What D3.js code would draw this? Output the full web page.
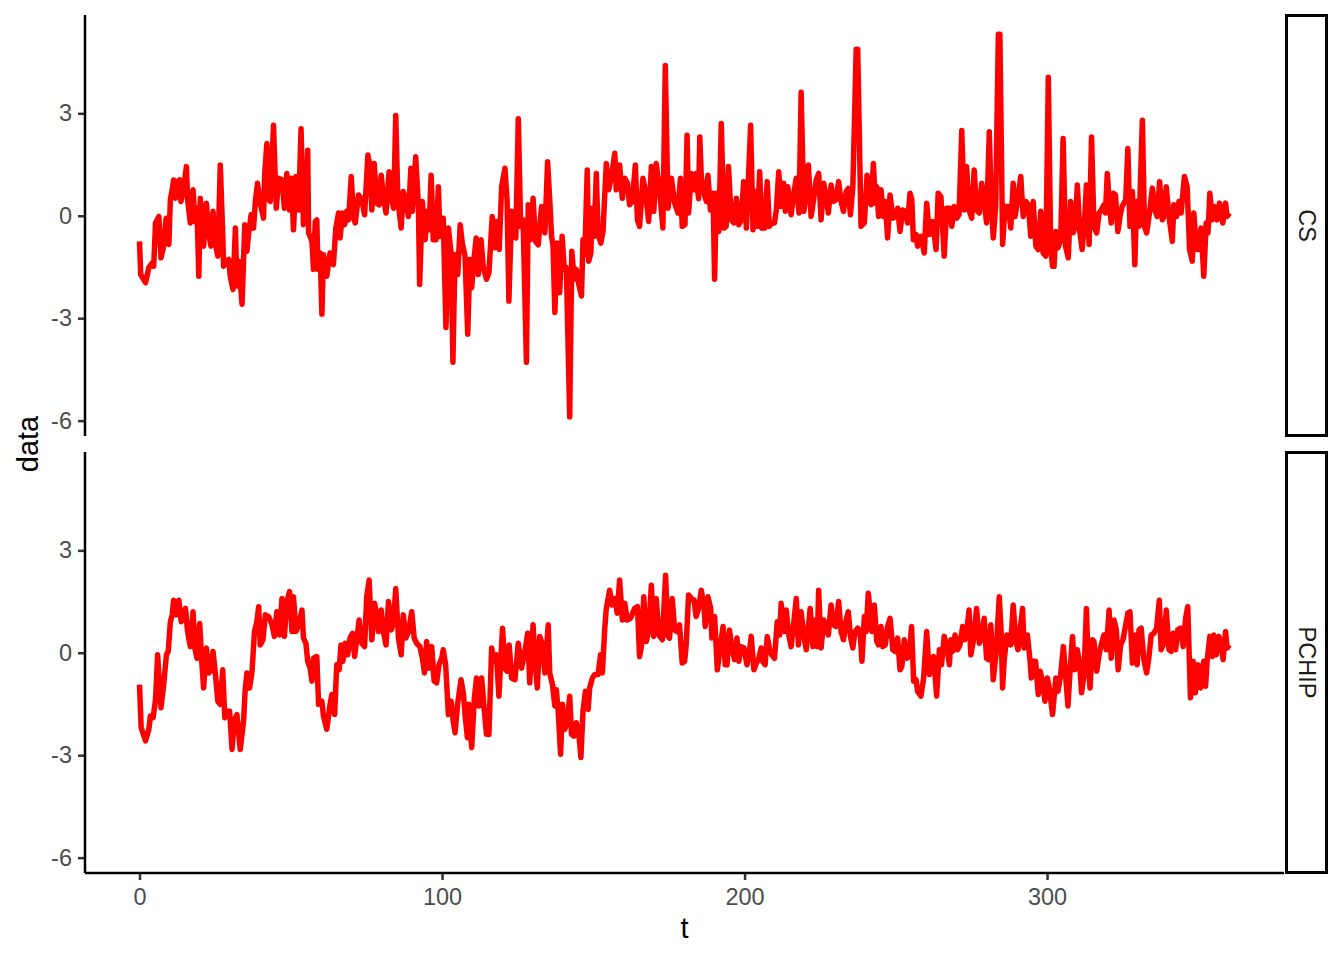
<!DOCTYPE html>
<html>
<head>
<meta charset="utf-8">
<script src="https://cdn.jsdelivr.net/npm/d3@7"></script>
<style>
	body { margin: 0; background: #fff; }
	text { font-family: 'Liberation Sans', Arial, sans-serif; }
</style>
</head>
<body>
<div id="chart"></div>
<script>
// ********** FACETED LINE CHART **********

// Panel names (facet rows, top to bottom)
const panels = ['CS', 'PCHIP'];

// Tick labels
const xTicks = [0, 100, 200, 300];
const yTicks = [-6, -3, 0, 3];

// CS series as [t, data]
const csPoints = [
	[0,-0.75],[0.4,-1.72],[2.0,-1.96],[3.1,-1.52],[4.2,-1.38],[4.7,-1.48],[5.3,-0.21],[6.4,-0.02],[7.1,-1.23],[8.0,-0.89],
	[8.8,-0.07],[9.7,-0.84],[10.2,0.47],[10.8,0.76],[11.3,1.05],[11.9,0.51],[12.4,1.0],[13.3,1.05],[13.7,0.42],[14.6,0.81],
	[15.5,1.44],[15.9,0.47],[16.8,-0.21],[17.7,0.76],[18.3,-0.17],[19.0,0.22],[19.6,-1.77],[20.1,0.51],[20.7,-0.12],[21.2,-0.89],
	[22.1,0.37],[22.9,-0.5],[23.6,-0.89],[24.3,0.13],[25.2,-0.89],[25.9,-1.18],[26.7,1.49],[27.5,-0.5],[27.8,-1.48],[28.7,-1.33],
	[29.5,-1.28],[30.0,-1.77],[30.9,-2.16],[31.7,-0.36],[32.2,-2.06],[32.8,-1.33],[33.9,-2.59],[34.8,-0.26],[35.5,-1.04],[36.1,-0.5],
	[36.9,0.03],[37.7,-0.36],[38.3,0.42],[39.0,0.95],[39.9,0.37],[41.0,-0.07],[41.4,1.24],[42.1,2.12],[42.7,0.47],[43.2,0.42],
	[44.3,2.65],[45.2,0.22],[46.0,1.1],[47.1,1.05],[47.9,0.22],[48.7,1.24],[49.6,0.17],[50.2,1.1],[50.9,-0.41],[51.7,1.15],
	[52.6,0.17],[53.4,2.55],[54.2,-0.26],[54.8,-0.12],[55.6,1.92],[55.9,-0.5],[57.0,-0.75],[57.5,-1.57],[58.1,-0.17],[58.6,-0.12],
	[59.0,-1.57],[59.7,-1.09],[60.3,-2.88],[60.8,-1.14],[61.9,-1.77],[63.0,-1.09],[64.1,-1.43],[64.9,-0.36],[65.8,0.08],[66.3,-0.65],
	[67.1,0.08],[67.8,-0.26],[68.5,0.13],[69.1,-0.12],[70.0,1.15],[70.7,-0.02],[71.3,-0.21],[72.4,0.61],[73.5,0.47],[74.4,0.03],
	[75.5,1.78],[76.2,1.44],[76.8,0.17],[77.6,1.53],[78.4,0.37],[79.2,0.32],[79.9,1.19],[80.6,0.56],[81.5,0.08],[82.5,1.29],
	[83.4,0.47],[84.0,0.22],[84.7,2.94],[85.4,0.47],[85.8,0.17],[86.5,-0.36],[87.2,0.71],[88.0,0.42],[88.9,-0.02],[89.7,1.39],
	[90.2,0.13],[91.3,1.73],[92.2,0.27],[92.6,-2.01],[93.5,0.42],[94.4,-0.7],[95.3,0.13],[95.7,-0.41],[96.4,1.19],[97.1,-0.7],
	[98.0,-0.7],[98.8,0.85],[99.3,-0.6],[100.4,-0.07],[101.3,-3.27],[102.1,-0.36],[103.0,-1.09],[103.6,-4.29],[104.3,-1.14],[105.2,-1.72],
	[106.0,-0.26],[106.7,-0.8],[107.6,-1.18],[108.5,-3.47],[109.2,-1.28],[109.8,-2.11],[110.6,-1.23],[111.3,-0.65],[112.0,-1.72],[112.9,-0.7],
	[113.6,-1.48],[114.7,-1.86],[115.5,-1.67],[116.6,-0.02],[117.5,-0.94],[118.0,-0.17],[118.9,-0.99],[119.7,0.85],[120.8,1.39],[121.5,0.46],
	[122.1,-2.5],[123.0,0.13],[123.5,-0.6],[124.4,-0.65],[125.2,2.84],[126.0,-0.31],[126.8,-0.12],[127.9,-4.29],[128.5,0.32],[129.3,-0.7],
	[130.1,0.51],[130.9,-0.75],[131.8,-0.85],[132.9,0.27],[134.0,-0.5],[134.9,1.58],[135.6,0.47],[136.2,-0.6],[136.7,-0.89],[137.3,-2.83],
	[138.1,-0.8],[138.9,-2.25],[139.7,-0.6],[140.4,-1.57],[141.1,-1.52],[142.2,-5.89],[142.9,-1.04],[143.7,-1.86],[144.4,-1.57],[145.2,-2.0],
	[146.1,-2.35],[146.6,-0.7],[147.2,-1.14],[148.0,1.34],[148.5,-1.33],[149.2,-1.09],[149.6,0.22],[150.3,-0.6],[151.0,1.24],[151.6,-0.55],
	[152.5,-0.8],[153.2,-0.46],[154.3,1.53],[155.1,0.76],[156.0,1.15],[157.1,1.83],[157.6,0.76],[158.7,1.49],[159.6,0.51],[160.4,1.1],
	[161.3,0.95],[162.0,0.32],[162.9,0.42],[163.9,1.49],[164.6,-0.12],[165.3,-0.31],[166.4,1.1],[167.2,0.76],[168.3,-0.17],[169.2,1.44],
	[170.0,0.13],[170.8,1.53],[171.9,0.76],[173.0,-0.36],[173.8,4.4],[174.7,0.22],[175.8,1.1],[176.9,0.37],[178.0,0.08],[178.8,1.1],
	[179.4,-0.31],[180.3,-0.26],[181.0,2.36],[181.5,0.08],[182.4,1.24],[183.3,0.76],[184.0,1.24],[184.8,0.5],[185.2,2.31],[185.7,1.15],
	[186.6,0.66],[187.4,0.42],[187.9,1.19],[188.7,0.17],[189.6,0.66],[190.1,-1.86],[190.7,0.66],[191.5,-0.46],[192.3,2.7],[193.2,-0.36],
	[193.9,-0.31],[194.7,1.44],[195.6,-0.12],[196.5,-0.21],[197.3,0.51],[198.1,-0.26],[198.9,-0.12],[199.7,1.0],[200.6,-0.36],[201.1,0.66],
	[202.0,2.65],[202.8,-0.41],[203.5,0.71],[204.2,-0.31],[205.0,1.29],[205.7,-0.36],[206.6,-0.36],[207.5,1.0],[208.2,-0.31],[209.0,-0.21],
	[209.9,-0.21],[210.5,0.17],[211.3,1.29],[212.0,0.27],[212.9,0.95],[213.5,0.13],[214.3,0.85],[215.4,0.03],[216.2,0.61],[217.1,1.1],
	[218.0,0.08],[218.7,3.62],[219.6,0.13],[220.4,0.66],[221.1,1.49],[222.0,-0.02],[222.5,0.27],[223.7,1.05],[224.5,1.24],[225.3,-0.12],
	[226.2,0.95],[227.0,0.51],[227.7,0.08],[228.6,0.9],[229.4,0.42],[230.2,0.47],[231.1,1.0],[231.9,0.42],[232.7,0.13],[233.6,0.71],
	[234.3,0.8],[235.0,0.03],[235.8,0.85],[236.9,4.88],[237.4,4.88],[238.5,-0.31],[239.6,-0.21],[240.5,1.19],[241.3,0.76],[241.8,0.32],
	[242.6,1.53],[243.2,0.37],[243.7,0.85],[244.3,-0.02],[245.1,0.76],[245.9,-0.02],[246.5,0.42],[247.3,-0.65],[248.1,0.61],[249.0,-0.07],
	[249.8,-0.02],[250.6,0.22],[251.4,-0.46],[252.3,0.17],[253.1,0.13],[253.9,-0.21],[254.7,0.66],[255.3,0.47],[255.8,-0.7],[256.7,-0.55],
	[257.2,-0.89],[258.3,-0.6],[259.4,-1.09],[260.2,0.37],[261.1,-0.55],[262.2,-0.17],[263.3,-0.99],[264.0,0.66],[264.9,0.56],[266.0,-1.18],
	[266.8,0.22],[267.9,0.22],[268.5,-0.31],[269.3,0.27],[270.1,-0.07],[270.9,0.03],[271.8,2.5],[272.6,0.17],[273.4,1.44],[274.2,0.17],
	[275.1,-0.07],[275.9,1.34],[276.7,0.17],[277.6,0.08],[278.4,0.95],[279.2,0.47],[280.0,-0.21],[280.9,2.46],[281.5,0.47],[282.2,-0.65],
	[283.0,0.27],[283.9,5.32],[284.4,5.32],[285.3,-0.84],[286.1,0.27],[287.2,0.27],[288.0,-0.36],[288.8,0.95],[289.4,-0.02],[290.2,0.42],
	[291.3,1.15],[292.1,-0.02],[293.0,0.42],[293.8,0.32],[294.6,-0.6],[295.4,0.42],[296.3,-0.89],[297.1,-0.99],[297.9,0.13],[298.7,-1.09],
	[299.6,-1.18],[300.4,4.06],[301.2,-0.89],[301.8,-1.48],[302.3,-1.48],[302.9,-0.46],[303.6,-0.94],[304.5,-0.7],[305.3,2.26],[306.1,-0.89],
	[307.0,-1.23],[307.8,0.42],[308.6,-0.5],[309.3,-0.31],[310.0,0.9],[310.8,-0.46],[311.6,-0.99],[312.4,-0.12],[313.0,0.9],[313.9,-0.84],
	[314.7,2.31],[315.5,-0.31],[316.4,-0.5],[317.2,0.08],[317.9,0.17],[318.8,0.32],[319.3,0.08],[319.9,1.24],[320.5,0.47],[321.2,-0.21],
	[321.9,0.66],[322.6,0.61],[323.4,-0.46],[324.3,0.08],[324.8,0.27],[326.0,0.47],[326.7,1.97],[327.4,-0.31],[328.2,0.71],[329.0,-1.43],
	[329.6,0.42],[330.4,-0.31],[331.5,2.8],[332.2,-0.31],[332.9,-0.5],[333.7,-0.02],[334.8,0.81],[335.6,0.17],[336.4,-0.02],[337.2,1.0],
	[338.1,-0.12],[338.6,-0.02],[339.4,0.85],[340.3,-0.02],[341.4,-0.75],[341.9,0.32],[342.8,-0.02],[343.6,0.42],[344.3,0.08],[345.4,1.15],
	[346.3,0.85],[347.1,-0.99],[348.0,-1.33],[348.5,0.08],[349.4,-0.99],[350.2,-0.99],[350.9,-0.36],[351.8,-1.77],[352.6,-0.21],[353.2,-0.5],
	[353.8,0.66],[354.6,-0.12],[355.3,0.27],[356.2,-0.12],[357.0,0.37],[358.1,-0.21],[359.0,0.37],[359.5,-0.02],[360.3,0.08]
];

// PCHIP series as [t, data]
const pchipPoints = [
	[0,-0.93],[0.55,-2.19],[2.0,-2.58],[3.1,-2.24],[3.6,-1.85],[4.5,-1.9],[5.3,-1.37],[6.0,-0.06],[6.7,-1.13],[7.1,-1.61],
	[8.0,-0.93],[8.9,-0.06],[9.5,0.04],[10.2,0.91],[10.8,1.11],[11.3,1.54],[12.2,1.11],[13.0,1.54],[13.8,0.91],[15.2,1.3],
	[15.9,0.62],[16.8,0.18],[17.7,1.2],[18.3,0.14],[19.0,-0.16],[19.9,0.86],[20.5,-0.16],[21.2,-1.03],[22.1,0.14],[22.9,-0.59],
	[23.4,-0.54],[24.3,0.04],[25.1,-0.64],[25.9,-1.42],[26.7,-1.51],[27.5,-0.5],[28.2,-1.9],[28.9,-1.71],[29.8,-1.71],[30.6,-2.83],
	[31.3,-2.0],[32.2,-1.81],[33.3,-2.83],[34.4,-2.0],[34.9,-1.13],[35.5,-0.59],[36.4,-1.03],[37.2,-0.54],[38.0,0.62],[38.8,0.91],
	[39.4,1.35],[39.9,0.23],[40.8,0.38],[41.6,1.11],[42.7,1.06],[43.8,0.82],[44.6,0.48],[45.4,1.2],[46.3,0.52],[47.1,1.59],
	[47.9,0.48],[48.7,1.5],[49.6,1.79],[50.4,0.62],[50.9,1.64],[51.7,0.62],[52.6,0.82],[53.7,1.25],[54.2,0.43],[55.0,0.28],
	[55.6,-0.25],[56.4,-0.45],[57.0,-0.83],[57.5,-0.16],[58.6,-0.11],[59.2,-1.51],[60.3,-1.42],[60.8,-1.85],[61.9,-2.24],[63.0,-1.51],
	[63.6,-1.22],[64.5,-1.81],[65.2,-0.35],[66.0,-0.5],[66.6,0.23],[67.2,-0.25],[68.0,0.28],[68.8,-0.06],[69.6,0.43],[70.4,0.57],
	[71.1,-0.11],[71.8,0.38],[72.6,0.96],[73.5,0.28],[74.4,0.18],[75.1,1.64],[75.9,2.13],[76.8,0.38],[77.7,1.45],[78.4,1.11],
	[79.0,0.62],[79.9,1.25],[80.6,0.62],[81.5,0.23],[82.3,1.5],[83.2,0.67],[83.9,0.86],[84.7,1.88],[85.6,0.43],[86.5,-0.06],
	[87.2,1.11],[88.0,0.43],[88.9,0.62],[90.0,1.2],[90.8,0.43],[91.6,0.28],[92.7,0.18],[93.5,-0.16],[94.2,-0.59],[94.9,0.33],
	[95.7,-0.45],[96.6,0.18],[97.4,-0.83],[98.2,-0.88],[99.0,-0.35],[99.9,-0.16],[100.4,0.09],[101.2,-0.35],[102.1,-1.81],[103.0,-1.42],
	[103.7,-2.0],[104.3,-2.34],[105.2,-1.47],[106.3,-0.79],[107.1,-1.22],[107.6,-1.81],[108.4,-2.49],[108.9,-1.51],[109.8,-2.78],[110.7,-1.32],
	[111.4,-0.74],[112.2,-1.56],[113.1,-0.74],[114.0,-1.71],[114.7,-2.39],[115.5,-2.39],[116.4,0.14],[117.2,-0.25],[118.0,-0.06],[118.8,-1.27],
	[120.0,0.72],[120.8,-0.45],[121.5,-0.54],[122.2,0.23],[123.0,-0.74],[124.1,-0.79],[125.2,0.28],[126.3,-0.45],[127.4,0.04],[128.3,0.57],
	[129.0,-0.88],[130.1,0.82],[130.7,-0.16],[131.5,-1.03],[132.3,0.48],[133.2,0.23],[134.0,-0.59],[135.1,0.82],[135.6,-0.59],[136.5,-0.93],
	[137.3,-1.56],[137.8,-1.08],[138.4,-1.71],[139.2,-2.97],[139.8,-1.51],[140.6,-2.24],[141.5,-1.95],[142.2,-1.27],[142.8,-2.39],[143.6,-2.44],
	[144.4,-2.05],[145.2,-2.34],[145.9,-3.07],[146.6,-1.71],[147.4,-1.13],[148.3,-1.66],[148.8,-1.03],[149.7,-0.74],[150.5,-0.64],[151.6,-0.64],
	[152.4,-0.06],[153.0,-0.59],[153.8,0.72],[154.3,1.3],[155.4,1.83],[156.2,1.4],[157.1,1.59],[157.9,1.16],[158.7,2.13],[159.6,0.96],
	[160.4,1.45],[161.2,0.96],[162.3,1.01],[163.7,1.3],[164.6,1.35],[165.3,-0.11],[165.9,0.18],[166.7,1.64],[167.5,0.33],[168.3,0.62],
	[169.2,1.98],[170.0,0.48],[170.8,1.59],[171.7,0.52],[172.8,0.38],[173.9,2.27],[174.7,0.48],[175.2,0.43],[176.1,1.59],[176.9,0.67],
	[177.7,0.62],[178.5,0.82],[179.4,-0.3],[180.2,-0.25],[180.7,0.23],[181.5,1.69],[182.4,1.59],[183.3,1.54],[184.0,1.06],[184.8,1.3],
	[185.7,1.83],[186.6,1.35],[187.0,0.77],[187.9,1.64],[188.8,1.3],[189.2,0.43],[190.1,1.06],[191.0,-0.5],[192.0,0.18],[192.9,0.77],
	[193.6,-0.35],[194.2,-0.35],[195.0,0.67],[195.8,0.14],[196.7,-0.2],[197.5,0.43],[198.1,-0.25],[198.9,0.18],[199.8,0.14],[200.8,-0.35],
	[201.7,0.09],[202.2,0.48],[203.1,-0.5],[203.9,-0.3],[204.6,-0.2],[205.5,0.14],[206.0,-0.25],[206.8,-0.35],[207.5,0.48],[208.3,0.09],
	[209.0,-0.06],[209.9,-0.16],[210.8,0.91],[211.6,0.52],[212.1,1.45],[213.0,0.62],[213.8,1.25],[214.5,0.57],[215.4,0.18],[216.3,0.91],
	[217.1,1.59],[217.8,0.23],[218.7,1.2],[219.5,0.57],[220.4,0.09],[220.9,0.57],[221.7,1.3],[222.6,0.18],[223.4,0.96],[224.0,0.18],
	[224.5,1.83],[225.3,0.14],[226.2,0.96],[226.9,0.77],[227.7,0.52],[228.6,1.4],[229.4,0.82],[230.2,0.77],[231.1,1.5],[231.9,0.62],
	[232.7,0.38],[233.6,0.96],[234.3,1.2],[235.0,0.48],[235.8,0.14],[236.5,0.62],[237.4,0.72],[238.2,0.62],[238.8,-0.25],[239.6,1.06],
	[240.2,0.62],[240.9,1.74],[242.1,0.62],[242.9,1.4],[243.7,0.33],[244.3,0.23],[245.1,0.77],[245.7,0.18],[246.5,0.23],[247.3,0.77],
	[248.1,1.01],[249.0,0.09],[249.8,0.04],[250.6,0.43],[251.4,-0.5],[252.0,-0.4],[252.8,0.38],[253.6,-0.16],[254.4,-0.11],[255.2,0.77],
	[255.9,-0.83],[256.7,-0.79],[257.2,-1.13],[258.3,-1.27],[259.2,-0.74],[260.2,0.62],[261.1,-0.64],[261.6,-0.35],[262.5,-0.11],[263.5,-1.27],
	[264.4,0.09],[265.1,-0.35],[266.0,0.48],[266.8,0.23],[267.7,-0.35],[268.2,0.38],[268.8,0.04],[269.6,0.52],[270.4,0.09],[271.2,0.23],
	[272.1,0.77],[272.8,0.38],[273.4,0.57],[274.2,1.25],[274.8,-0.06],[275.7,0.38],[276.7,1.3],[277.6,0.28],[278.3,0.43],[279.2,1.01],
	[280.0,-0.16],[280.6,-0.2],[281.4,0.82],[282.2,-0.79],[283.1,-0.06],[284.2,1.64],[284.8,0.62],[285.3,-1.03],[285.8,-0.25],[286.7,0.52],
	[287.5,0.48],[288.0,0.23],[288.8,1.4],[289.7,0.33],[290.4,0.09],[291.9,1.3],[292.4,0.14],[293.5,0.52],[294.3,-0.16],[294.8,-0.74],
	[295.4,-0.25],[296.2,-0.25],[297.1,-1.22],[297.7,-0.54],[298.5,-0.83],[299.3,-1.42],[300.1,-0.74],[300.9,-1.13],[301.8,-1.81],[302.9,-0.74],
	[303.6,-1.13],[304.5,-0.64],[305.4,0.18],[306.1,-0.64],[306.9,-1.56],[307.6,-0.54],[308.4,0.48],[309.1,-0.5],[310.0,0.09],[310.8,-0.35],
	[311.4,-1.17],[312.2,-0.64],[313.0,1.3],[313.6,-0.35],[314.2,-1.03],[315.0,0.38],[315.5,0.33],[316.4,-0.54],[317.2,-0.06],[317.9,0.23],
	[318.8,0.52],[319.6,0.09],[320.5,1.25],[321.2,-0.16],[322.1,0.96],[322.9,0.67],[323.5,-0.5],[324.3,0.23],[325.1,0.38],[326.0,0.82],
	[326.7,1.16],[327.4,1.2],[328.2,-0.3],[329.0,0.52],[329.8,-0.35],[330.4,0.67],[331.1,0.72],[332.0,-0.2],[332.9,-0.59],[333.7,-0.11],
	[334.4,0.52],[335.3,0.57],[336.2,0.72],[337.1,1.54],[337.7,0.09],[338.6,0.28],[339.4,1.25],[340.3,0.09],[341.0,0.04],[341.7,0.57],
	[342.5,0.09],[343.2,0.67],[344.1,0.72],[345.0,0.18],[345.8,1.01],[346.5,1.35],[347.4,-1.32],[348.3,-0.25],[349.0,-1.17],[349.8,-0.35],
	[350.7,-1.03],[351.3,-0.45],[351.8,-0.25],[352.4,-0.98],[352.9,-0.25],[353.8,0.48],[354.6,-0.11],[355.1,0.52],[355.9,-0.06],[356.8,0.48],
	[357.5,0.23],[358.2,-0.2],[359.0,0.62],[359.5,0.14],[360.3,0.23]
];

// Layout
const width = 1344;
const height = 960;
const margin = { top: 15, left: 85, right: 60, bottom: 87 };
const panelGap = 16;
const stripWidth = 43;
const panelH = (height - margin.top - margin.bottom - panelGap) / 2;
const panelW = width - margin.left - margin.right;

const seriesByPanel = { CS: csPoints, PCHIP: pchipPoints };

// Create SVG
const svg = d3.select('#chart')
	.append('svg')
	.attr('width', width)
	.attr('height', height);

// ggplot style 5% expansion of the data range
const expand = ext => {
	const pad = (ext[1] - ext[0]) * 0.05;
	return [ext[0] - pad, ext[1] + pad];
};

const allPoints = csPoints.concat(pchipPoints);
const xScale = d3.scaleLinear()
	.domain(expand(d3.extent(allPoints, d => d[0])))
	.range([0, panelW]);
const yScale = d3.scaleLinear()
	.domain(expand(d3.extent(allPoints, d => d[1])))
	.range([panelH, 0]);

const line = d3.line()
	.x(d => xScale(d[0]))
	.y(d => yScale(d[1]));

// Plain hyphen for negative labels, as in the original
const plainLabel = d => String(d);

// Draw each facet row
panels.forEach((name, i) => {
	const top = margin.top + i * (panelH + panelGap);
	const g = svg.append('g')
		.attr('class', 'panel')
		.attr('transform', `translate(${margin.left}, ${top})`);

	// Series line
	g.append('path')
		.datum(seriesByPanel[name])
		.attr('fill', 'none')
		.attr('stroke', '#ff0000')
		.attr('stroke-width', 5.5)
		.attr('stroke-linejoin', 'round')
		.attr('stroke-linecap', 'butt')
		.attr('d', line);

	// Y axis
	const yAxis = d3.axisLeft(yScale)
		.tickValues(yTicks)
		.tickFormat(plainLabel)
		.tickSize(7)
		.tickPadding(6);
	const ya = g.append('g').attr('class', 'y axis').call(yAxis);
	ya.select('.domain').remove();
	ya.selectAll('.tick line').attr('stroke', '#333333').attr('stroke-width', 2.5);
	ya.selectAll('.tick text')
		.attr('fill', '#4d4d4d')
		.style('font-size', '23.5px')
		.style('font-family', "'Liberation Sans', Arial, sans-serif");
	g.append('line')
		.attr('x1', 0).attr('x2', 0)
		.attr('y1', 0).attr('y2', panelH)
		.attr('stroke', '#000').attr('stroke-width', 2.5);

	// Strip on the right
	const strip = g.append('g')
		.attr('transform', `translate(${panelW + 1}, 0)`);
	strip.append('rect')
		.attr('x', 1.5).attr('y', 0.5)
		.attr('width', stripWidth - 3).attr('height', panelH - 1)
		.attr('fill', '#fff')
		.attr('stroke', '#000')
		.attr('stroke-width', 3);
	strip.append('text')
		.attr('transform', `translate(${stripWidth / 2}, ${panelH / 2}) rotate(90)`)
		.attr('text-anchor', 'middle')
		.attr('dominant-baseline', 'central')
		.attr('fill', '#1a1a1a')
		.style('font-size', '23.5px')
		.text(name);

	// X axis only below the last panel
	if (i === panels.length - 1) {
		const xAxis = d3.axisBottom(xScale)
			.tickValues(xTicks)
			.tickFormat(plainLabel)
			.tickSize(7)
			.tickPadding(8);
		const xa = g.append('g')
			.attr('class', 'x axis')
			.attr('transform', `translate(0, ${panelH})`)
			.call(xAxis);
		xa.select('.domain').remove();
		xa.selectAll('.tick line').attr('stroke', '#333333').attr('stroke-width', 2.5);
		xa.selectAll('.tick text')
			.attr('fill', '#4d4d4d')
			.style('font-size', '23.5px')
			.style('font-family', "'Liberation Sans', Arial, sans-serif");
		g.append('line')
			.attr('x1', 0).attr('x2', panelW)
			.attr('y1', panelH).attr('y2', panelH)
			.attr('stroke', '#000').attr('stroke-width', 2.5);
	}
});

// Axis titles
svg.append('text')
	.attr('x', margin.left + panelW / 2)
	.attr('y', 938)
	.attr('text-anchor', 'middle')
	.style('font-size', '29px')
	.text('t');

svg.append('text')
	.attr('transform', `translate(38, ${margin.top + panelH + panelGap / 2}) rotate(-90)`)
	.attr('text-anchor', 'middle')
	.style('font-size', '29px')
	.text('data');
</script>
</body>
</html>
